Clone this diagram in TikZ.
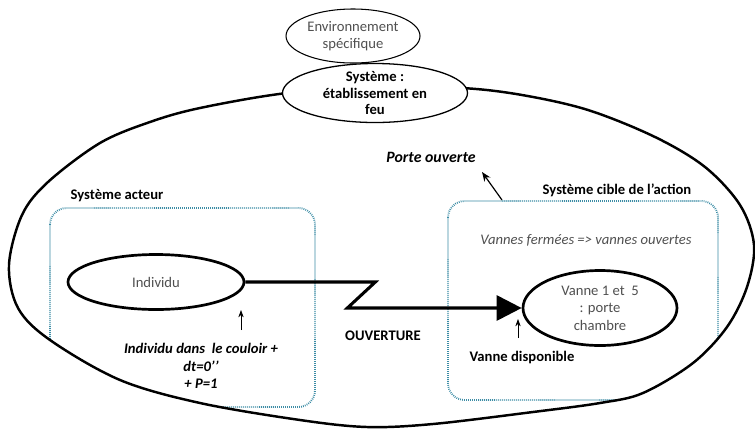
\documentclass[tikz,border=0pt]{standalone}
\usepackage{fontspec}
\setmainfont{Carlito}
\usetikzlibrary{shapes.geometric,arrows.meta}
\definecolor{pointille}{RGB}{60,140,165}
\definecolor{gristexte}{RGB}{80,80,80}

\begin{document}
\fontsize{12.5}{15}\selectfont
\begin{tikzpicture}[x=0.3mm, y=-0.3mm,
    ovale/.style={ellipse, draw=black, fill=white, inner sep=-3mm, align=center, text=gristexte},
    grosovale/.style={ovale, line width=2.3pt},
    cadre/.style={draw=pointille, line width=1.6pt, dash pattern=on 0.7pt off 1pt, rounded corners=5mm},
    gras/.style={align=center, font=\bfseries},
    petitefleche/.style={-{Stealth[length=2.2mm,width=1.6mm]}, line width=0.6pt}]
    \useasboundingbox (0,0) rectangle (755,430);
    % Contour of the system.
        \path[save path=\contour] plot[smooth cycle, tension=0.55] coordinates {
            (9,265) (22,215) (48,182) (100,143) (150,122) (200,108) (287,93) (380,87)
            (462,88) (522,95) (588,110) (655,137) (705,167) (740,205) (754,245) (747,287)
            (727,327) (693,363) (643,393) (600,403) (533,412) (433,424) (367,427) (300,420)
            (200,403) (120,380) (50,340) (18,308)};
    % Dotted boxes, cut by the contour.
        \begin{scope}
            \clip[use path=\contour];
            \draw[cadre] (50,208) rectangle (315,407);
            \draw[cadre] (448,201) rectangle (718,400);
        \end{scope}
        \draw[line width=2.1pt, use path=\contour];
    % The ellipses.
        \node[ovale, line width=0.9pt, minimum width=40.2mm, minimum height=16.2mm] (env) at (353,36) {Environnement\\spécifique};
        \node[ovale, line width=1.1pt, minimum width=55.5mm, minimum height=17.7mm, text=black, font=\bfseries, execute at begin node=\setlength{\baselineskip}{14pt}] (sys) at (375,93) {Système :\\établissement en\\feu};
        \node[grosovale, minimum width=52.8mm, minimum height=16.5mm] (indiv) at (156,282) {Individu};
        \node[grosovale, minimum width=46.2mm, minimum height=22.5mm] (vanne) at (600,308) {Vanne 1 et\ \ 5\\: porte\\chambre};
    % Below nodes are the labels.
        \node[gras] (acteur) at (117,196) {Système acteur};
        \node[gras] (cible) at (617,190) {Système cible de l’action};
        \node[gras, font=\fontsize{13.5}{16}\selectfont\bfseries\itshape] (porte) at (431,157) {Porte ouverte};
        \node[text=gristexte, font=\itshape] (etats) at (586,240) {Vannes fermées => vannes ouvertes};
        \node[gras, font=\bfseries\itshape] (couloir) at (201,366) {Individu dans\ \ le couloir +\\dt=0’’\\+ P=1};
        \node[gras] (ouv) at (383,336) {OUVERTURE};
        \node[gras] (dispo) at (522,358) {Vanne disponible};
    % Connector and small arrows.
        \draw[line width=2.6pt, -{Triangle[length=7.5mm,width=7.5mm]}] (indiv.east) -- ++(130,0) -- ++(-28,26) -- (vanne.west);
        \coordinate (pied1) at (241,330);
        \coordinate (tete1) at (241,310);
        \coordinate (pied2) at (518,338);
        \coordinate (tete2) at (518,319);
        \coordinate (piedporte) at (502,200);
        \draw[petitefleche] (pied1) -- (tete1);
        \draw[petitefleche] (pied2) -- (tete2);
        \draw[-{Stealth[length=2.8mm,width=2.2mm]}, line width=1pt] (piedporte) -- (482,172);
\end{tikzpicture}
\end{document}
